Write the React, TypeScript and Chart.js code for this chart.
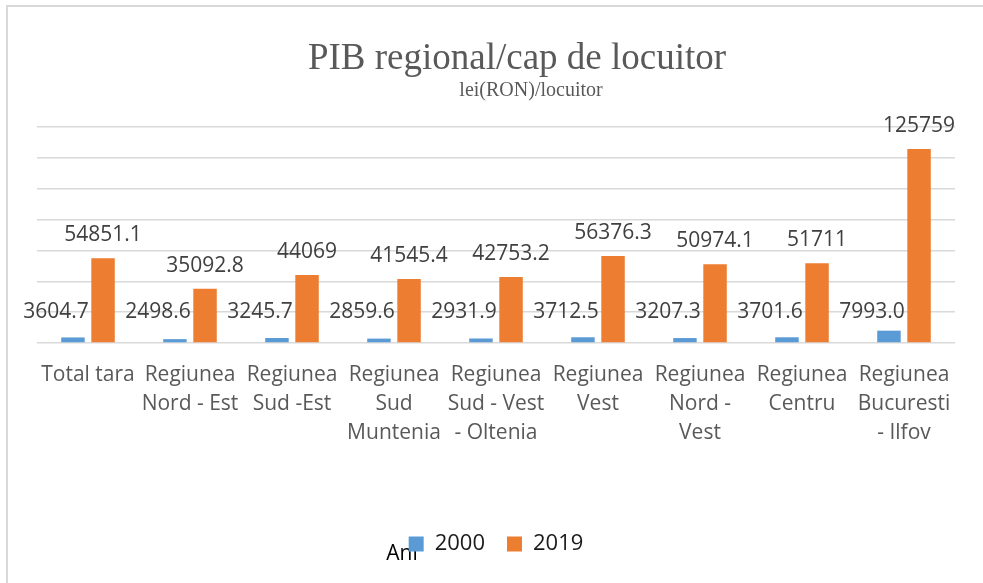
import React, { useEffect, useRef } from "react";
import { Chart, registerables } from "chart.js";

Chart.register(...registerables);

const TITLE = "PIB regional/cap de locuitor";
const SUBTITLE = "lei(RON)/locuitor";
const AXIS_TITLE = "Ani";

const categories: string[][] = [
  ["Total tara"],
  ["Regiunea", "Nord - Est"],
  ["Regiunea", "Sud -Est"],
  ["Regiunea", "Sud", "Muntenia"],
  ["Regiunea", "Sud - Vest", "- Oltenia"],
  ["Regiunea", "Vest"],
  ["Regiunea", "Nord -", "Vest"],
  ["Regiunea", "Centru"],
  ["Regiunea", "Bucuresti", "- Ilfov"],
];

const seriesNames = ["2000", "2019"];
const values2000 = [3604.7, 2498.6, 3245.7, 2859.6, 2931.9, 3712.5, 3207.3, 3701.6, 7993.0];
const values2019 = [54851.1, 35092.8, 44069, 41545.4, 42753.2, 56376.3, 50974.1, 51711, 125759];
const labels2000 = ["3604.7", "2498.6", "3245.7", "2859.6", "2931.9", "3712.5", "3207.3", "3701.6", "7993.0"];
const labels2019 = ["54851.1", "35092.8", "44069", "41545.4", "42753.2", "56376.3", "50974.1", "51711", "125759"];

const Y_MAX = 140000;
const Y_STEP = 20000;

const SANS = "'Open Sans', sans-serif";
const SERIF = "'Liberation Serif', 'Times New Roman', serif";

const textPlugin = {
  id: "customText",
  beforeDraw(chart: any) {
    const ctx = chart.ctx;
    const area = chart.chartArea;
    const cx = (area.left + area.right) / 2;
    ctx.save();
    ctx.fillStyle = "#595959";
    ctx.textAlign = "center";
    ctx.textBaseline = "middle";
    ctx.font = `37px ${SERIF}`;
    ctx.fillText(TITLE, cx + 21, 52);
    ctx.font = `20px ${SERIF}`;
    ctx.fillText(SUBTITLE, cx + 35, 84);
    // axis title "Ani" sits under the legend
    const hb = chart.legend && chart.legend.legendHitBoxes && chart.legend.legendHitBoxes[0];
    if (hb) {
      ctx.fillStyle = "#000000";
      ctx.font = `21px ${SANS}`;
      ctx.textAlign = "right";
      ctx.textBaseline = "alphabetic";
      ctx.fillText(AXIS_TITLE, hb.left + 9, hb.top + hb.height / 2 + 16);
    }
    ctx.restore();
  },
  afterDatasetsDraw(chart: any) {
    const ctx = chart.ctx;
    ctx.save();
    ctx.fillStyle = "#404040";
    ctx.font = `21px ${SANS}`;
    ctx.textBaseline = "middle";
    const m0 = chart.getDatasetMeta(0);
    const m1 = chart.getDatasetMeta(1);
    m0.data.forEach((bar: any, i: number) => {
      ctx.textAlign = "right";
      ctx.fillText(labels2000[i], bar.x + bar.width / 2 + 4, bar.base - 30);
    });
    m1.data.forEach((bar: any, i: number) => {
      ctx.textAlign = "center";
      ctx.fillText(labels2019[i], bar.x, bar.y - 23);
    });
    ctx.restore();
  },
};

export default function App() {
  const ref = useRef<HTMLCanvasElement | null>(null);

  useEffect(() => {
    if (!ref.current) return;
    const chart = new Chart(ref.current, {
      type: "bar",
      data: {
        labels: categories,
        datasets: [
          {
            label: seriesNames[0],
            data: values2000,
            backgroundColor: "#5b9bd5",
            categoryPercentage: 0.59,
            barPercentage: 0.78,
          },
          {
            label: seriesNames[1],
            data: values2019,
            backgroundColor: "#ed7d31",
            categoryPercentage: 0.59,
            barPercentage: 0.78,
          },
        ],
      },
      options: {
        responsive: true,
        maintainAspectRatio: false,
        animation: false,
        layout: { padding: { left: 29, right: 28, top: 120, bottom: 18 } },
        plugins: {
          title: { display: false },
          legend: {
            position: "bottom",
            labels: {
              boxWidth: 15,
              boxHeight: 15,
              padding: 22,
              color: "#1a1a1a",
              font: { family: SANS, size: 22 },
            },
          },
          tooltip: { enabled: false },
        },
        scales: {
          x: {
            grid: { display: false, drawTicks: false },
            border: { display: false },
            ticks: {
              color: "#595959",
              font: { family: SANS, size: 21, lineHeight: 1.38 },
              padding: 18,
              maxRotation: 0,
              autoSkip: false,
            },
            afterFit: (scale: any) => {
              scale.height = 168;
            },
          },
          y: {
            min: 0,
            max: Y_MAX,
            grid: { color: "#d9d9d9", lineWidth: 1.5, drawTicks: false },
            border: { display: false },
            ticks: { display: false, stepSize: Y_STEP },
          },
        },
      },
      plugins: [textPlugin],
    });
    return () => chart.destroy();
  }, []);

  return (
    <div
      style={{
        position: "fixed",
        left: 6,
        top: 5,
        width: 977,
        height: 578,
        borderLeft: "2px solid #d9d9d9",
        borderTop: "2px solid #d9d9d9",
        boxSizing: "border-box",
        background: "#ffffff",
      }}
    >
      <canvas ref={ref} style={{ display: "block" }} />
    </div>
  );
}
